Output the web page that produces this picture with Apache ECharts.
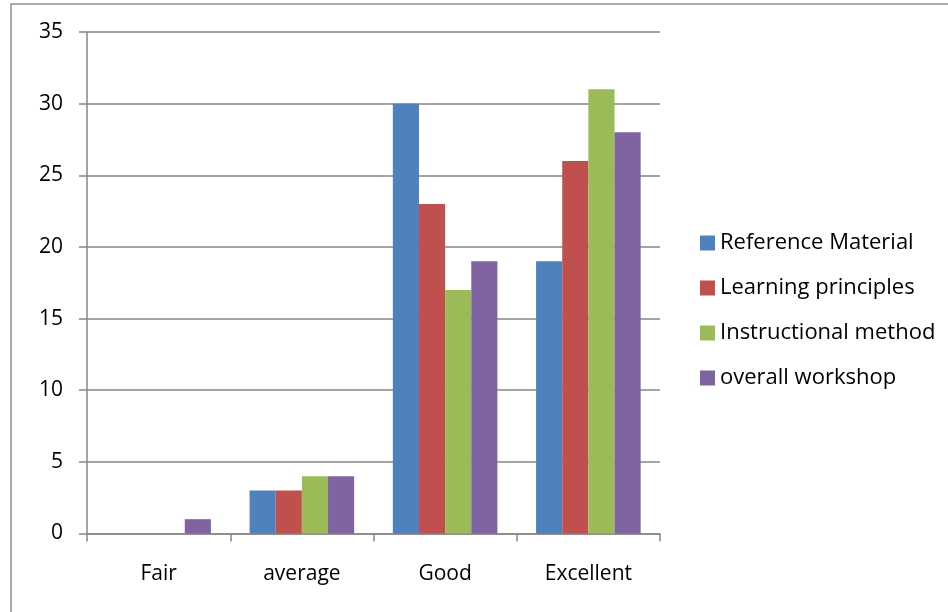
<!DOCTYPE html>
<html><head><meta charset="utf-8">
<script src="https://cdn.jsdelivr.net/npm/echarts@6/dist/echarts.min.js"></script>
<style>html,body{margin:0;padding:0;background:#fff}#c{width:948px;height:612px}</style>
</head><body><div id="c"></div>
<script>
const categories = ['Fair', 'average', 'Good', 'Excellent'];
const referenceMaterial = [0, 3, 30, 19];
const learningPrinciples = [0, 3, 23, 26];
const instructionalMethod = [0, 4, 17, 31];
const overallWorkshop = [1, 4, 19, 28];
const seriesNames = ['Reference Material', 'Learning principles', 'Instructional method', 'overall workshop'];
const colors = ['#4F81BD', '#C0504D', '#9BBB59', '#8064A2'];
const seriesData = [referenceMaterial, learningPrinciples, instructionalMethod, overallWorkshop];

const font = '"Open Sans", Lato, sans-serif';
const chart = echarts.init(document.getElementById('c'));
chart.setOption({
  animation: false,
  color: colors,
  graphic: [{
    type: 'rect', silent: true,
    shape: { x: 11, y: 4, width: 1000, height: 1000 },
    style: { fill: 'none', stroke: '#8e8e8e', lineWidth: 1.5 }
  }],
  grid: { left: 87, right: 288, top: 32, bottom: 78.5, containLabel: false },
  legend: {
    orient: 'vertical', left: 695, top: 227,
    icon: 'rect', itemWidth: 15, itemHeight: 15, itemGap: 23,
    textStyle: { fontFamily: font, fontSize: 22, color: '#000', lineHeight: 22 },
    data: seriesNames
  },
  xAxis: {
    type: 'category', data: categories,
    axisLine: { lineStyle: { color: '#868686', width: 1.5 } },
    axisTick: { show: true, alignWithLabel: false, length: 8, lineStyle: { color: '#868686', width: 1.5 } },
    axisLabel: { fontFamily: font, fontSize: 21, color: '#000', margin: 30 }
  },
  yAxis: {
    type: 'value', min: 0, max: 35, interval: 5,
    axisLine: { show: true, lineStyle: { color: '#868686', width: 1.5 } },
    axisTick: { show: true, length: 8, lineStyle: { color: '#868686', width: 1.5 } },
    axisLabel: { fontFamily: font, fontSize: 21, color: '#000', margin: 24 },
    splitLine: { lineStyle: { color: '#868686', width: 1.5 } }
  },
  series: seriesNames.map((n, i) => ({
    name: n, type: 'bar', data: seriesData[i],
    barGap: '0%', barCategoryGap: '27%'
  }))
});
</script></body></html>
